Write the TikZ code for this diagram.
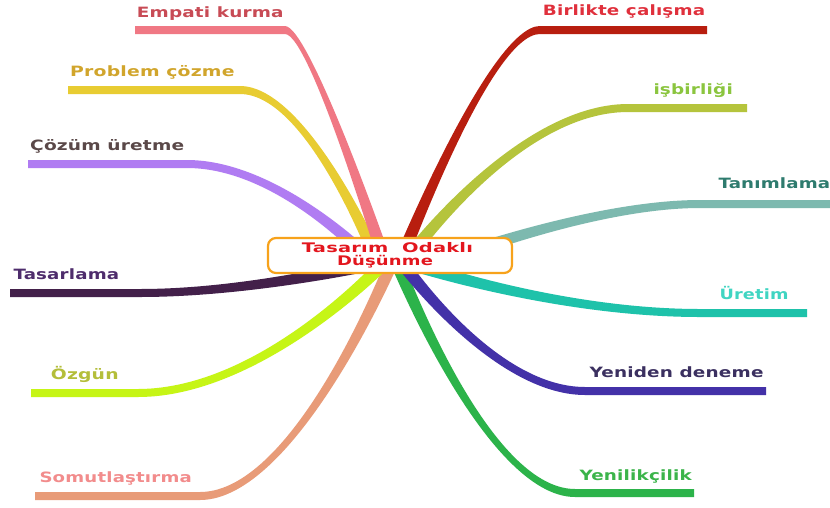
\documentclass[tikz,border=0pt]{standalone}
\usepackage{graphicx}
\usepackage{fontspec}
\setmainfont{DejaVu Sans}
\newfontfamily\lblfont{DejaVu Sans}[LetterSpace=1]
\usetikzlibrary{calc}

% label text stretched to a given width, height kept
\newcommand\fitw[2]{\resizebox{#1}{\height}{#2}}

\definecolor{emL}{HTML}{F07884}\definecolor{emT}{HTML}{C84B55}
\definecolor{prL}{HTML}{E8CC32}\definecolor{prT}{HTML}{D1A52C}
\definecolor{coL}{HTML}{B07CF2}\definecolor{coT}{HTML}{5A4848}
\definecolor{taL}{HTML}{43204A}\definecolor{taT}{HTML}{4E2C6C}
\definecolor{ozL}{HTML}{C6F516}\definecolor{ozT}{HTML}{B4BE3A}
\definecolor{soL}{HTML}{E89B78}\definecolor{soT}{HTML}{F28C8C}
\definecolor{biL}{HTML}{B81E0F}\definecolor{biT}{HTML}{E0303C}
\definecolor{isL}{HTML}{B5C43C}\definecolor{isT}{HTML}{8BC53F}
\definecolor{tnL}{HTML}{7DB9AF}\definecolor{tnT}{HTML}{2E7B6E}
\definecolor{urL}{HTML}{1EC2AA}\definecolor{urT}{HTML}{40D5C2}
\definecolor{yeL}{HTML}{4331A8}\definecolor{yeT}{HTML}{3B3060}
\definecolor{ynL}{HTML}{2CB34A}\definecolor{ynT}{HTML}{3BB44A}
\definecolor{hubB}{HTML}{F7A21B}\definecolor{hubT}{HTML}{E3161E}

\tikzset{
  lbl/.style={inner sep=0, anchor=base west, font={\lblfont\bfseries\fontsize{14.2}{16}\selectfont}},
  hubbox/.style={draw=hubB, line width=2.2pt, rounded corners=8pt, fill=white,
    minimum width=244pt, minimum height=35pt, inner sep=0},
  hubtxt/.style={inner sep=0, anchor=base, text=hubT, font={\lblfont\bfseries\fontsize{13.2}{14}\selectfont}},
}

% tapered branch: wide at the hub (s), narrow along the flat end (b--e)
\def\hw{6.5pt}
\def\ew{4pt}
\newcommand\twig[2]{%
  \path ($(#1s)!\hw!90:(#1c)$) coordinate (#1sL)
        ($(#1s)!\hw!-90:(#1c)$) coordinate (#1sR)
        ($(#1b)!\ew!-90:(#1c)$) coordinate (#1bL)
        ($(#1b)!\ew!90:(#1c)$) coordinate (#1bR)
        ($(#1c)+(#1bL)-(#1b)$) coordinate (#1cL)
        ($(#1c)+(#1bR)-(#1b)$) coordinate (#1cR)
        ($(#1e)+(#1bL)-(#1b)$) coordinate (#1eL)
        ($(#1e)+(#1bR)-(#1b)$) coordinate (#1eR);
  \fill[#2] (#1sL) .. controls (#1sL) and (#1cL) .. (#1bL) -- (#1eL)
     -- (#1eR) -- (#1bR) .. controls (#1cR) and (#1sR) .. (#1sR) -- cycle;
}

\begin{document}
\begin{tikzpicture}[x=1pt,y=-1pt]
\useasboundingbox[fill=white] (0,0) rectangle (830,507);

% branch geometry: s = hub end, c = control, b = start of flat part, e = free end
\coordinate (ems) at (385,262); \coordinate (emc) at (310,30);  \coordinate (emb) at (285,30);  \coordinate (eme) at (135,30);
\coordinate (prs) at (378,262); \coordinate (prc) at (308,90);  \coordinate (prb) at (240,90);  \coordinate (pre) at (68,90);
\coordinate (cos) at (372,262); \coordinate (coc) at (280,164); \coordinate (cob) at (187,164); \coordinate (coe) at (28,164);
\coordinate (tas) at (372,264); \coordinate (tac) at (250,293); \coordinate (tab) at (140,293); \coordinate (tae) at (10,293);
\coordinate (ozs) at (385,262); \coordinate (ozc) at (262,393); \coordinate (ozb) at (138,393); \coordinate (oze) at (31,393);
\coordinate (sos) at (392,262); \coordinate (soc) at (296,496); \coordinate (sob) at (200,496); \coordinate (soe) at (35,496);
\coordinate (bis) at (400,262); \coordinate (bic) at (490,30);  \coordinate (bib) at (540,30);  \coordinate (bie) at (707,30);
\coordinate (iss) at (405,262); \coordinate (isc) at (515,108); \coordinate (isb) at (628,108); \coordinate (ise) at (747,108);
\coordinate (tns) at (440,262); \coordinate (tnc) at (590,204); \coordinate (tnb) at (700,204); \coordinate (tne) at (830,204);
\coordinate (urs) at (405,262); \coordinate (urc) at (552,313); \coordinate (urb) at (700,313); \coordinate (ure) at (807,313);
\coordinate (yes) at (400,260); \coordinate (yec) at (492,391); \coordinate (yeb) at (585,391); \coordinate (yee) at (766,391);
\coordinate (yns) at (395,258); \coordinate (ync) at (485,493); \coordinate (ynb) at (575,493); \coordinate (yne) at (694,493);

\twig{ta}{taL}
\twig{so}{soL}
\twig{oz}{ozL}
\twig{co}{coL}
\twig{pr}{prL}
\twig{em}{emL}
\twig{tn}{tnL}
\twig{ur}{urL}
\twig{yn}{ynL}
\twig{ye}{yeL}
\twig{is}{isL}
\twig{bi}{biL}

% central topic
\node[hubbox] (hub) at (390,255.5) {};
\node[hubtxt] (hub1) at (387.5,252.5) {\fitw{171pt}{Tasarım~~Odaklı}};
\node[hubtxt] (hub2) at (385,265.5) {\fitw{96pt}{Düşünme}};

% branch labels
\node[lbl, text=emT] (emt) at (136.7,17) {\fitw{146.7pt}{Empati kurma}};
\node[lbl, text=prT] (prt) at (70,76.5)      {\fitw{164.3pt}{Problem çözme}};
\node[lbl, text=coT] (cot) at (30,150.5)     {\fitw{154pt}{Çözüm üretme}};
\node[lbl, text=taT] (tat) at (13.3,279.5) {\fitw{105.7pt}{Tasarlama}};
\node[lbl, text=ozT] (ozt) at (50.7,379.5) {\fitw{67.7pt}{Özgün}};
\node[lbl, text=soT] (sot) at (39.3,482) {\fitw{152.3pt}{Somutlaştırma}};
\node[lbl, text=biT] (bit) at (542.7,15.5)   {\fitw{162.3pt}{Birlikte çalışma}};
\node[lbl, text=isT] (ist) at (653.3,94)   {\fitw{79.3pt}{işbirliği}};
\node[lbl, text=tnT] (tnt) at (718.3,188.5){\fitw{111.7pt}{Tanımlama}};
\node[lbl, text=urT] (urt) at (719.3,299.5){\fitw{69pt}{Üretim}};
\node[lbl, text=yeT] (yet) at (589.3,377.5){\fitw{174pt}{Yeniden deneme}};
\node[lbl, text=ynT] (ynt) at (579.3,480)  {\fitw{112.3pt}{Yenilikçilik}};
\end{tikzpicture}
\end{document}
